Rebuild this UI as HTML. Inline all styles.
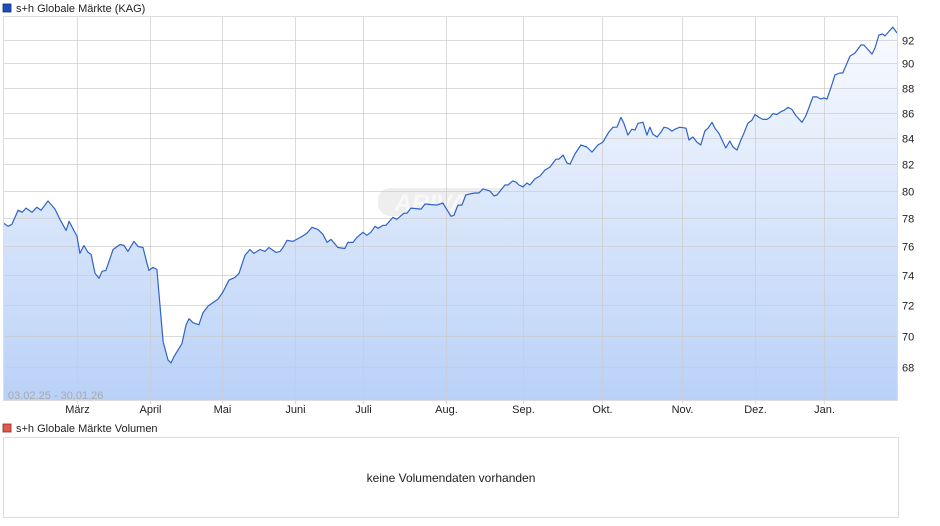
<!DOCTYPE html>
<html><head><meta charset="utf-8"><style>
body{margin:0;background:#fff;font-family:"Liberation Sans",sans-serif;}
svg{display:block}
</style></head><body>
<svg id="c" width="940" height="526" xmlns="http://www.w3.org/2000/svg">
<defs><linearGradient id="g" x1="0" y1="16" x2="0" y2="401" gradientUnits="userSpaceOnUse">
<stop offset="0" stop-color="#fbfcff"/><stop offset="1" stop-color="#b9d1f7"/></linearGradient></defs>
<rect x="3" y="4" width="8" height="8" fill="#1f4fb4" stroke="#0d2f7a" stroke-width="0.8"/>
<text x="16" y="12" font-size="11" fill="#222">s+h Globale Märkte (KAG)</text>
<g id="grid"></g>
<g id="area"></g>
<g id="axes"></g>
<text x="8" y="399" font-size="11" fill="#aaa">03.02.25 - 30.01.26</text>
<rect x="3" y="424" width="8" height="8" fill="#e05a4a" stroke="#8a2a20" stroke-width="0.8"/>
<text x="16" y="432" font-size="11" fill="#222">s+h Globale Märkte Volumen</text>
<rect x="3.5" y="437.5" width="895" height="80" fill="#fff" stroke="#ddd"/>
<text x="451" y="482" font-size="12" fill="#222" text-anchor="middle">keine Volumendaten vorhanden</text>
</svg>
<script>
const days=[0,1.6,3.2,5.7,7.3,8.9,11.3,13.3,15,17.8,20.6,22.6,25.1,26.3,29.5,30.7,32.3,34,35.2,36.8,38.4,39.6,41.2,44.1,46.9,48.5,50.1,52.5,54.2,56.2,57.8,58.6,60.2,61.8,64.3,66.3,67.5,68.7,71.9,73.6,74.8,76.4,78.8,80.4,82.5,86.5,88.5,90.9,93.4,95,97.4,99.4,101,103.5,105.5,107.1,109.9,111.6,112.8,114.4,116.8,120.5,122.5,124.5,126.9,128.9,130.6,132.2,135,137.8,139,141.1,142.7,145.1,146.7,148.3,150,151.2,153.2,154.4,157.2,158.8,161.7,162.9,164.5,168.6,170.2,175,177.4,180.7,181.9,183.5,185.1,186.7,188.4,190.4,192,193.6,196.4,198.1,199.3,202.5,203.7,205.7,206.9,208.2,209.8,211.4,212.6,214.6,216.7,218.7,220.7,223.1,224.3,226,227.6,228.8,230.8,233.2,235.6,237.7,240.1,242.1,244.5,246.2,247.8,249.4,250.6,252.2,253.8,255.1,256.3,258.3,259.9,261.1,262.3,264,265.6,266.8,268.4,270,271.2,273.2,275.7,276.9,278.5,280.1,281.7,283.3,284.6,286.2,287.4,289,291.8,293.4,294.7,296.3,297.9,299.1,300.7,302.3,303.6,305.2,306.8,308.4,309.6,310.8,312.4,314.1,315.3,316.9,318.5,320.1,322.6,324.2,327,328.6,330.2,331.4,332.7,334.7,335.9,337.9,339.1,342,344,346.4,347.6,350.9,352.1,353.7,355.3,356.1,359.3,361];
const prices=[77.64,77.43,77.57,78.59,78.44,78.74,78.44,78.81,78.59,79.26,78.67,77.93,77.14,77.79,76.71,75.52,76.07,75.59,75.45,74.14,73.8,74.28,74.34,75.79,76.14,76.07,75.66,76.36,76.0,75.93,74.83,74.34,74.55,74.41,69.61,68.45,68.26,68.65,69.48,70.71,71.1,70.84,70.71,71.48,71.94,72.4,72.87,73.67,73.87,74.14,75.38,75.79,75.52,75.79,75.66,75.93,75.59,75.66,75.93,76.43,76.36,76.71,76.93,77.36,77.21,76.86,76.29,76.5,75.93,75.86,76.29,76.29,76.64,77.0,76.79,77.0,77.43,77.29,77.5,77.5,78.07,77.93,78.37,78.37,78.74,78.67,79.04,78.96,79.11,78.15,78.22,78.96,78.96,79.7,79.78,79.85,79.85,80.15,80.0,79.63,79.7,80.44,80.44,80.74,80.67,80.44,80.3,80.59,80.44,80.89,81.11,81.56,81.78,82.38,82.38,82.69,82.08,82.0,82.77,83.46,83.31,82.92,83.46,83.69,84.46,84.85,84.85,85.62,85.15,84.23,84.69,84.62,85.15,85.23,84.23,84.85,84.31,84.08,84.46,84.85,84.77,84.54,84.69,84.85,84.77,83.85,84.08,83.69,83.46,84.54,84.77,85.23,84.77,84.38,83.23,83.77,83.31,83.08,83.85,84.38,85.15,85.38,85.85,85.62,85.46,85.46,85.62,85.92,85.85,86.08,86.17,86.42,86.25,85.77,85.23,85.77,87.25,87.25,87.08,87.17,87.08,88.24,89.04,89.2,89.2,90.6,90.85,91.53,91.53,90.77,91.28,92.38,92.47,92.3,93.06,92.55];
const yTicks=[68,70,72,74,76,78,80,82,84,86,88,90,92];
const monthLabels=["März","April","Mai","Juni","Juli","Aug.","Sep.","Okt.","Nov.","Dez.","Jan."];
const monthDays=[29.5,59.1,88.2,117.7,145.1,178.6,209.8,241.7,274,303.6,331.4];

const NS="http://www.w3.org/2000/svg";
const L=3,R=898,T=16,B=401;
function xs(d){return 4+d*(893/361);}
function ys(v){return 367-(Math.log(v)-Math.log(68))/(Math.log(92)-Math.log(68))*327.5;}
function mk(tag,attrs,parent){const e=document.createElementNS(NS,tag);for(const k in attrs)e.setAttribute(k,attrs[k]);parent.appendChild(e);return e;}
const grid=document.getElementById('grid'),area=document.getElementById('area'),axes=document.getElementById('axes');
mk('rect',{x:L+0.5,y:T+0.5,width:R-L-1,height:B-T-1,fill:'#fff',stroke:'#ddd'},grid);
// watermark
const wm=mk('rect',{x:378,y:188,width:146,height:28,rx:12,fill:'#eee'},grid);


const wt=mk('text',{x:451,y:211,'font-size':24,'font-style':'italic','font-weight':'bold',fill:'#f8f8f8','text-anchor':'middle'},grid);
wt.textContent='ARIVA.DE';


let pts=days.map((d,i)=>xs(d).toFixed(1)+','+ys(prices[i]).toFixed(1));
const fill=mk('polygon',{points:pts.join(' ')+' '+xs(days[days.length-1]).toFixed(1)+','+B+' '+xs(days[0]).toFixed(1)+','+B,fill:'url(#g)'},area);


yTicks.forEach(v=>{const y=Math.round(ys(v))+0.5;
 const gl=mk('line',{x1:L,x2:R,y1:y,y2:y,stroke:'#ccc','stroke-opacity':0.7},axes);
 
 
 const t=mk('text',{x:902,y:y+4,'font-size':11,fill:'#222'},axes);t.textContent=v;
 
 });
monthDays.forEach((d,i)=>{const x=Math.round(xs(d))+0.5;
 const gl=mk('line',{x1:x,x2:x,y1:T,y2:B+3,stroke:'#ccc','stroke-opacity':0.7},axes);
 
 
 const t=mk('text',{x:x,y:413,'font-size':11,fill:'#222','text-anchor':'middle'},axes);t.textContent=monthLabels[i];
 
 });
const ln=mk('polyline',{points:pts.join(' '),fill:'none',stroke:'#2f63c8','stroke-width':1.2,'stroke-linejoin':'round'},axes);


const fr=mk('rect',{x:L+0.5,y:T+0.5,width:R-L-1,height:B-T-1,fill:'none',stroke:'#ddd'},axes);


</script>
</body></html>
